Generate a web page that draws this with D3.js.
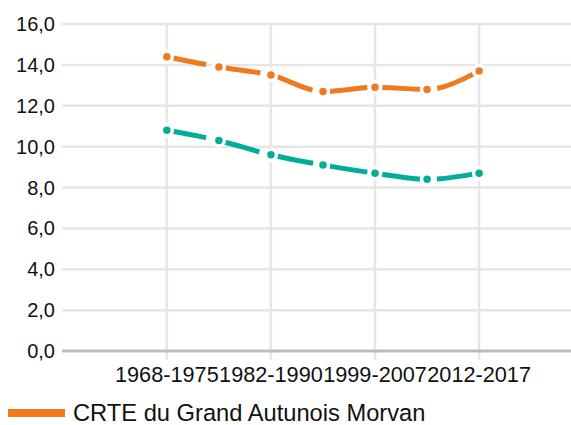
<!DOCTYPE html>
<html>
<head>
<meta charset="utf-8">
<script src="https://cdn.jsdelivr.net/npm/d3@7"></script>
<style>
  body { margin: 0; background: #fff; }
  svg { display: block; font-family: "Liberation Sans", Arial, sans-serif; }
</style>
</head>
<body>
<div id="chart"></div>
<script>
var periods = ["1968-1975", "1975-1982", "1982-1990", "1990-1999", "1999-2007", "2007-2012", "2012-2017"];
var crteValues = [14.4, 13.9, 13.5, 12.7, 12.9, 12.8, 13.7];
var otherValues = [10.8, 10.3, 9.6, 9.1, 8.7, 8.4, 8.7];
var yTicks = [0, 2, 4, 6, 8, 10, 12, 14, 16];
var labelledPeriods = ["1968-1975", "1982-1990", "1999-2007", "2012-2017"];
var legendLabel = "CRTE du Grand Autunois Morvan";

var width = 571, height = 425;
var plot = {left: 62, right: 571, top: 24, bottom: 351};

var svg = d3.select("#chart").append("svg")
    .attr("width", width).attr("height", height);

var x = d3.scalePoint()
    .domain(periods)
    .range([plot.left, plot.right])
    .padding(1.89)
    .align(0.533);

var y = d3.scaleLinear()
    .domain([0, 16])
    .range([plot.bottom, plot.top]);

var fmt = function(d) { return d3.format(".1f")(d).replace(".", ","); };

// horizontal grid
svg.append("g").selectAll("line")
  .data(yTicks.filter(function(d) { return d > 0; }))
  .enter().append("line")
    .attr("x1", plot.left).attr("x2", plot.right)
    .attr("y1", function(d) { return y(d); })
    .attr("y2", function(d) { return y(d); })
    .attr("stroke", "#e6e6e6").attr("stroke-width", 2.5);

// vertical grid + ticks
svg.append("g").selectAll("line")
  .data(labelledPeriods)
  .enter().append("line")
    .attr("x1", function(d) { return x(d); })
    .attr("x2", function(d) { return x(d); })
    .attr("y1", plot.top).attr("y2", plot.bottom + 9)
    .attr("stroke", "#e6e6e6").attr("stroke-width", 2.5);

// axis baseline
svg.append("line")
    .attr("x1", plot.left).attr("x2", plot.right)
    .attr("y1", y(0)).attr("y2", y(0))
    .attr("stroke", "#bcbcbc").attr("stroke-width", 3);

// y labels
svg.append("g").selectAll("text")
  .data(yTicks)
  .enter().append("text")
    .attr("x", 55)
    .attr("y", function(d) { return y(d); })
    .attr("dy", "0.35em")
    .attr("text-anchor", "end")
    .attr("font-size", 20)
    .attr("fill", "#111")
    .text(fmt);

// x labels
svg.append("g").selectAll("text")
  .data(labelledPeriods)
  .enter().append("text")
    .attr("x", function(d) { return x(d); })
    .attr("y", 382)
    .attr("text-anchor", "middle")
    .attr("font-size", 21.7)
    .attr("fill", "#111")
    .text(function(d) { return d; });

var series = [
  {values: otherValues, color: "#00ad98"},
  {values: crteValues, color: "#f07a1e"}
];

var line = d3.line()
    .x(function(d, i) { return x(periods[i]); })
    .y(function(d) { return y(d); })
    .curve(d3.curveMonotoneX);

series.forEach(function(s) {
  svg.append("path")
      .datum(s.values)
      .attr("d", line)
      .attr("fill", "none")
      .attr("stroke", s.color)
      .attr("stroke-width", 5)
      .attr("stroke-dasharray", "40,15");

  svg.append("g").selectAll("circle")
    .data(s.values)
    .enter().append("circle")
      .attr("cx", function(d, i) { return x(periods[i]); })
      .attr("cy", function(d) { return y(d); })
      .attr("r", 5.5)
      .attr("fill", s.color)
      .attr("stroke", "#fff")
      .attr("stroke-width", 3.5);
});

// legend
var legend = svg.append("g").attr("transform", "translate(8,413)");
legend.append("rect")
    .attr("x", 0).attr("y", -4)
    .attr("width", 57).attr("height", 8)
    .attr("fill", "#f07a1e");
legend.append("text")
    .attr("x", 65)
    .attr("dy", "0.35em")
    .attr("font-size", 23.7)
    .attr("fill", "#111")
    .text(legendLabel);
</script>
</body>
</html>
